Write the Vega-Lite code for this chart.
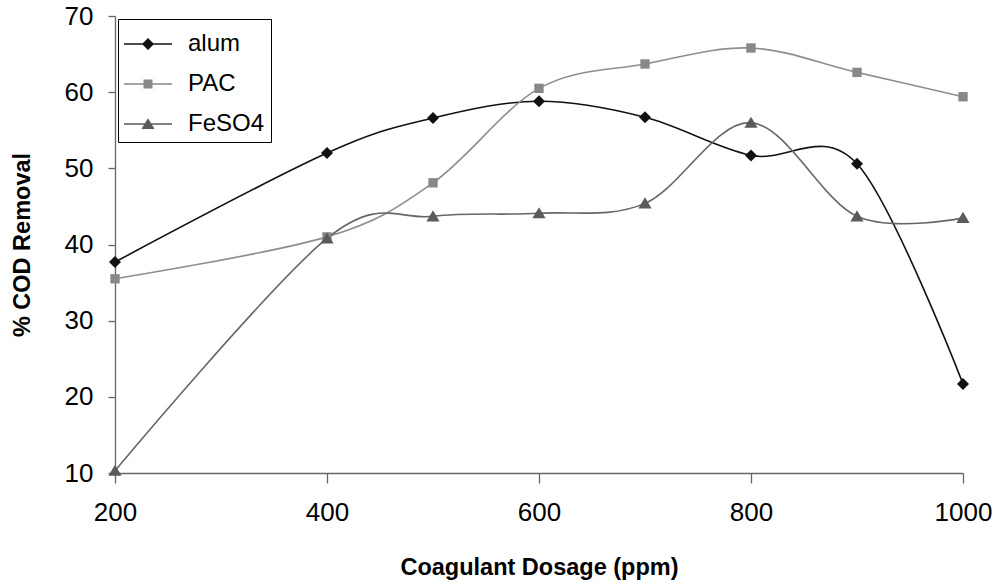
{
  "$schema": "https://vega.github.io/schema/vega-lite/v6.json",
  "width": 848,
  "height": 457,
  "autosize": {"type": "none"},
  "padding": {"left": 115, "top": 16, "right": 37, "bottom": 110},
  "background": "white",
  "config": {
    "view": {"stroke": null},
    "font": "Liberation Sans",
    "axis": {"grid": false, "domainColor": "#666666", "tickColor": "#666666", "domainWidth": 1.3, "tickWidth": 1.3, "labelColor": "#000000", "titleColor": "#000000", "labelFont": "Liberation Sans", "titleFont": "Liberation Sans"},
    "legend": {
      "orient": "top-left",
      "offset": 3,
      "padding": 6,
      "strokeColor": "#000000",
      "strokeWidth": 1,
      "fillColor": "#ffffff",
      "labelFont": "Liberation Sans",
      "labelFontSize": 24,
      "labelColor": "#000000",
      "titleFontSize": 1,
      "titlePadding": 6,
      "symbolSize": 144,
      "symbolOffset": 12,
      "labelOffset": 28,
      "rowPadding": 16,
      "symbolStrokeWidth": 0,
      "symbolOpacity": 1
    }
  },
  "data": {
    "values": [
      {"dose": 200, "cod": 37.7, "series": "alum"},
      {"dose": 400, "cod": 52.0, "series": "alum"},
      {"dose": 500, "cod": 56.6, "series": "alum"},
      {"dose": 600, "cod": 58.8, "series": "alum"},
      {"dose": 700, "cod": 56.7, "series": "alum"},
      {"dose": 800, "cod": 51.7, "series": "alum"},
      {"dose": 900, "cod": 50.6, "series": "alum"},
      {"dose": 1000, "cod": 21.7, "series": "alum"},
      {"dose": 200, "cod": 35.5, "series": "PAC"},
      {"dose": 400, "cod": 41.0, "series": "PAC"},
      {"dose": 500, "cod": 48.1, "series": "PAC"},
      {"dose": 600, "cod": 60.5, "series": "PAC"},
      {"dose": 700, "cod": 63.7, "series": "PAC"},
      {"dose": 800, "cod": 65.8, "series": "PAC"},
      {"dose": 900, "cod": 62.6, "series": "PAC"},
      {"dose": 1000, "cod": 59.4, "series": "PAC"},
      {"dose": 200, "cod": 10.3, "series": "FeSO4"},
      {"dose": 400, "cod": 40.8, "series": "FeSO4"},
      {"dose": 500, "cod": 43.7, "series": "FeSO4"},
      {"dose": 600, "cod": 44.1, "series": "FeSO4"},
      {"dose": 700, "cod": 45.4, "series": "FeSO4"},
      {"dose": 800, "cod": 56.0, "series": "FeSO4"},
      {"dose": 900, "cod": 43.7, "series": "FeSO4"},
      {"dose": 1000, "cod": 43.5, "series": "FeSO4"}
    ]
  },
  "encoding": {
    "x": {
      "field": "dose",
      "type": "quantitative",
      "scale": {"domain": [200, 1000], "nice": false, "zero": false},
      "axis": {
        "values": [200, 400, 600, 800, 1000],
        "format": "d",
        "title": "Coagulant Dosage (ppm)",
        "labelFontSize": 26,
        "titleFontSize": 23.5,
        "titleFontWeight": "bold",
        "tickSize": 10,
        "labelPadding": 16,
        "titlePadding": 30,
        "labelFlush": false
      }
    },
    "y": {
      "field": "cod",
      "type": "quantitative",
      "scale": {"domain": [10, 70], "nice": false, "zero": false},
      "axis": {
        "values": [10, 20, 30, 40, 50, 60, 70],
        "format": "d",
        "title": "% COD Removal",
        "labelFontSize": 26,
        "titleFontSize": 23.5,
        "titleFontWeight": "bold",
        "tickSize": 7,
        "labelPadding": 15,
        "titlePadding": 30,
        "labelFlush": false
      }
    }
  },
  "layer": [
    {
      "mark": {"type": "line", "interpolate": "cardinal", "strokeWidth": 1.6},
      "encoding": {
        "color": {
          "field": "series",
          "type": "nominal",
          "scale": {"domain": ["alum", "PAC", "FeSO4"], "range": ["#111111", "#8e8e8e", "#666666"]},
          "legend": null
        }
      }
    },
    {
      "mark": {"type": "point", "filled": true, "opacity": 1, "size": 144},
      "encoding": {
        "color": {
          "field": "series",
          "type": "nominal",
          "scale": {"domain": ["alum", "PAC", "FeSO4"], "range": ["#111111", "#888888", "#5a5a5a"]},
          "legend": null
        },
        "shape": {
          "field": "series",
          "type": "nominal",
          "scale": {
            "domain": ["alum", "PAC", "FeSO4"],
            "range": [
              "M0,-1L1,0L0,1L-1,0Z",
              "M-0.78,-0.78H0.78V0.78H-0.78Z",
              "M0,-1L1.1,0.85L-1.1,0.85Z"
            ]
          },
          "legend": null
        }
      }
    },
    {
      "mark": {"type": "point", "filled": true, "opacity": 0, "size": 144},
      "encoding": {
        "color": {
          "field": "series",
          "type": "nominal",
          "scale": {"domain": ["alum", "PAC", "FeSO4"], "range": ["#111111", "#888888", "#5a5a5a"]},
          "legend": {"title": " "}
        },
        "shape": {
          "field": "series",
          "type": "nominal",
          "scale": {
            "domain": ["alum", "PAC", "FeSO4"],
            "range": [
              "M-4,-0.13H4V0.13H-4Z M0,-1L1,0L0,1L-1,0Z",
              "M-4,-0.13H4V0.13H-4Z M-0.75,-0.75H0.75V0.75H-0.75Z",
              "M-4,-0.13H4V0.13H-4Z M0,-0.95L1.1,0.85L-1.1,0.85Z"
            ]
          },
          "legend": {"title": " "}
        }
      }
    }
  ],
  "resolve": {"scale": {"color": "independent", "shape": "independent"}}
}
